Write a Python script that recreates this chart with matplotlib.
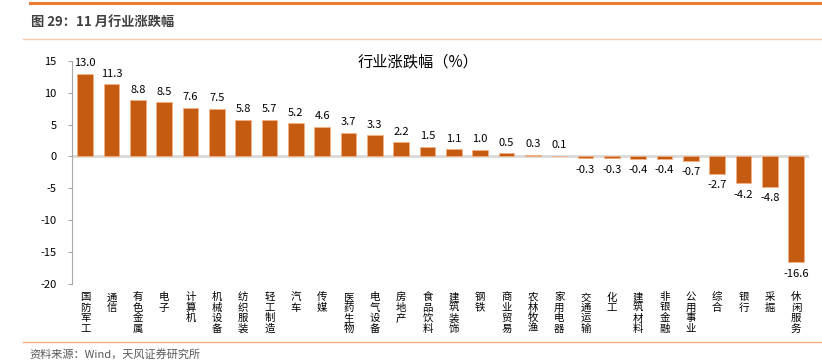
import matplotlib.pyplot as plt
import numpy as np

plt.rcParams['font.family'] = ['Noto Sans CJK SC', 'DejaVu Sans']

industries = ['国防军工', '通信', '有色金属', '电子', '计算机', '机械设备', '纺织服装',
              '轻工制造', '汽车', '传媒', '医药生物', '电气设备', '房地产', '食品饮料',
              '建筑装饰', '钢铁', '商业贸易', '农林牧渔', '家用电器', '交通运输', '化工',
              '建筑材料', '非银金融', '公用事业', '综合', '银行', '采掘', '休闲服务']
changes = [13.0, 11.3, 8.8, 8.5, 7.6, 7.5, 5.8, 5.7, 5.2, 4.6, 3.7, 3.3, 2.2, 1.5,
           1.1, 1.0, 0.5, 0.3, 0.1, -0.3, -0.3, -0.4, -0.4, -0.7, -2.7, -4.2, -4.8, -16.6]
yticks = [-20, -15, -10, -5, 0, 5, 10, 15]

bar_color = '#C55A11'

fig = plt.figure(figsize=(8.22, 3.60), dpi=100)

# 页眉、页脚装饰线
fig.add_artist(plt.Line2D([0.036, 1.0], [0.992, 0.992], color='#ED7D31', lw=2.2))
fig.add_artist(plt.Line2D([0.028, 1.0], [0.892, 0.892], color='#F8CBAD', lw=1.0))
fig.add_artist(plt.Line2D([0.028, 1.0], [0.050, 0.050], color='#F4B183', lw=1.0))
fig.text(0.038, 0.938, '图 29：11 月行业涨跌幅', fontsize=9.5, fontweight='bold',
         color='#404040', va='center')
fig.text(0.036, 0.015, '资料来源：Wind，天风证券研究所', fontsize=8, color='#595959',
         va='center')

ax = fig.add_axes([0.0876, 0.211, 0.897, 0.62])
x = np.arange(len(industries))
ax.bar(x, changes, width=0.6, color=bar_color, edgecolor='#F4B183', linewidth=0.6, zorder=3)
ax.axhline(0, color='#D9D9D9', lw=2.0, zorder=2)

for xi, v in zip(x, changes):
    if v >= 0:
        ax.text(xi, v + 0.9, f'{v:.1f}', ha='center', va='bottom', fontsize=8, color='#000000')
    else:
        ax.text(xi, v - 1.0, f'{v:.1f}', ha='center', va='top', fontsize=8, color='#000000')

ax.set_xlim(-0.5, len(industries) - 0.5)
ax.set_ylim(-20, 15)
ax.set_yticks(yticks)
ax.set_yticklabels([str(t) for t in yticks], fontsize=8, color='#000000')
ax.tick_params(axis='y', direction='out', length=3, color='#A6A6A6', pad=8)
ax.set_xticks(x)
ax.set_xticklabels(['\n'.join(s) for s in industries], fontsize=7.5, color='#000000',
                   linespacing=1.05, va='top')
ax.tick_params(axis='x', length=0, pad=6)
for s in ['top', 'right', 'bottom']:
    ax.spines[s].set_visible(False)
ax.spines['left'].set_color('#A6A6A6')

ax.text(0.47, 0.995, '行业涨跌幅（%）', transform=ax.transAxes, ha='center', va='center',
        fontsize=11, color='#000000')

fig.savefig('out.png', dpi=100)
